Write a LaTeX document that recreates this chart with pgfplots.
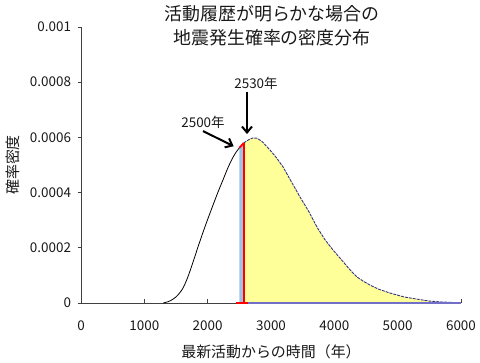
\documentclass[border=0pt]{standalone}
\usepackage{fontspec}
\setmainfont{Noto Sans CJK JP}
\usepackage{pgfplots}
\usepackage{pgfplotstable}
\pgfplotsset{compat=1.18}
\usepgfplotslibrary{fillbetween}
\usetikzlibrary{arrows.meta}
\definecolor{fillyellow}{HTML}{FFFF99}
\definecolor{fillblue}{HTML}{9DC3E6}
\definecolor{axisgray}{HTML}{404040}
\definecolor{navyline}{HTML}{333380}
\definecolor{baseblue}{HTML}{7070C8}
\pgfplotstableread{
x y
1300 0
1400 0.000007
1500 0.000022
1600 0.00005
1680 0.00009
1760 0.000142
1840 0.000198
1920 0.000252
2000 0.000303
2080 0.000352
2160 0.0004
2240 0.000445
2320 0.00049
2400 0.000528
2460 0.00055
2500 0.000562
2570 0.00058
2650 0.000592
2716 0.000598
2780 0.000597
2860 0.000585
2985 0.000554
3090 0.000525
3190 0.000493
3320 0.00044
3458 0.000384
3600 0.00033
3726 0.000275
3850 0.00023
3979 0.000192
4100 0.00016
4248 0.00012
4358 0.000094
4450 0.00008
4563 0.000065
4700 0.00005
4880 0.000036
5100 0.000022
5305 0.000014
5500 0.000007
5670 0.000004
5850 0.000002
6000 0
}\curve
\begin{document}
\begin{tikzpicture}
\path (0,0) rectangle (480bp,363bp);
\begin{axis}[
  at={(81bp,60bp)}, anchor=south west,
  scale only axis, width=380bp, height=276bp,
  xmin=0, xmax=6000, ymin=0, ymax=0.001,
  axis x line*=bottom, axis y line*=left,
  axis line style={axisgray, line width=0.9pt, -},
  xtick={0,1000,2000,3000,4000,5000,6000},
  xticklabels={0,1000,2000,3000,4000,5000,6000},
  ytick={0,0.0002,0.0004,0.0006,0.0008,0.001},
  yticklabels={0,0.0002,0.0004,0.0006,0.0008,0.001},
  scaled y ticks=false,
  xtick align=inside, ytick align=outside,
  major tick length=3.5bp,
  tick style={axisgray, line width=0.8pt},
  ticklabel style={font=\fontsize{13.5}{15}\selectfont, text=black!90},
  xticklabel style={yshift=-14bp},
  yticklabel style={xshift=-3bp},
  /pgf/number format/assume math mode=true,
  xlabel={最新活動からの時間（年）},
  ylabel={確率密度},
  label style={font=\fontsize{15}{17}\selectfont, text=black!90},
  xlabel style={at={(axis description cs:0.5,-0.178)}, anchor=center},
  ylabel style={at={(axis description cs:-0.179,0.5)}, anchor=center},
  clip=false,
]
\addplot[name path=curve, draw=none] table[x=x,y=y] {\curve};
\addplot[name path=base, draw=none] coordinates {(0,0) (6000,0)};
\addplot[fill=fillyellow, draw=none] fill between[of=curve and base, soft clip={domain=2570:6000}];
\addplot[fill=fillblue, draw=none] fill between[of=curve and base, soft clip={domain=2500:2570}];
\addplot[black, line width=0.8pt, smooth, restrict x to domain=1300:2500] table[x=x,y=y] {\curve};
\addplot[navyline, line width=0.9pt, dashed, dash pattern=on 3pt off 1pt, restrict x to domain=2570:6000] table[x=x,y=y] {\curve};
\addplot[red, line width=1.8pt, restrict x to domain=2500:2570] table[x=x,y=y] {\curve};
\addplot[baseblue, line width=1.6pt] coordinates {(2570,0) (6000,0)};
\addplot[red, line width=1.8pt] coordinates {(2570,0) (2570,0.00058)};
\addplot[red, line width=1.2pt] coordinates {(2450,0) (2630,0)};
\draw[black, line width=2pt, -{Straight Barb[length=6bp, width=10bp]}] (axis cs:2621,0.000764) -- (axis cs:2621,0.000612);
\draw[black, line width=2pt, -{Straight Barb[length=6bp, width=10bp]}] (axis cs:1926,0.000623) -- (axis cs:2410,0.000568);
\node[font=\fontsize{13.5}{15}\selectfont, text=black!90] at (axis cs:2763,0.000797) {2530年};
\node[font=\fontsize{13.5}{15}\selectfont, text=black!90] at (axis cs:1926,0.000656) {2500年};
\end{axis}
\node[font=\fontsize{18}{20}\selectfont, text=black!90] at (272bp,349bp) {活動履歴が明らかな場合の};
\node[font=\fontsize{18}{20}\selectfont, text=black!90] at (272bp,325bp) {地震発生確率の密度分布};
\end{tikzpicture}
\end{document}
